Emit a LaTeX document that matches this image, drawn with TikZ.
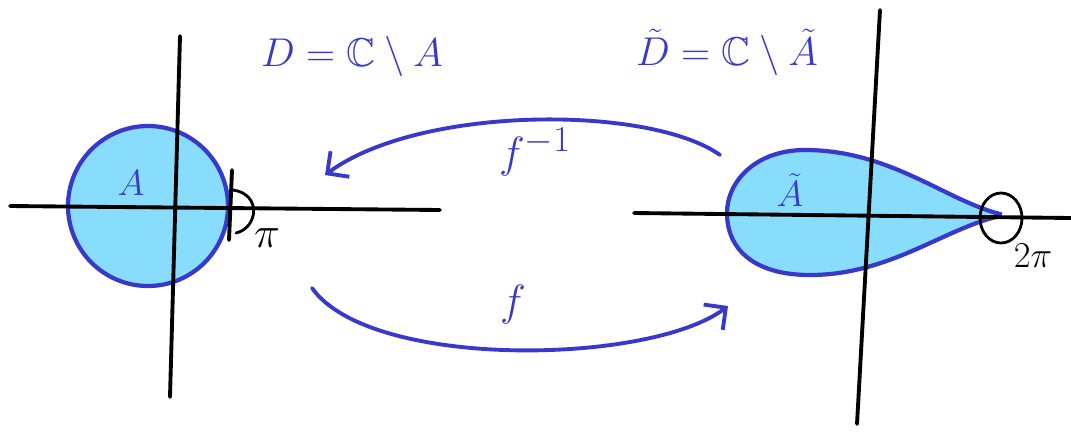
\documentclass[tikz,border=0pt]{standalone}
\usepackage{amssymb}
\usetikzlibrary{arrows.meta}
\definecolor{penblue}{HTML}{3838CC}
\definecolor{lightfill}{HTML}{88DDFC}
\begin{document}
\begin{tikzpicture}[x=0.02cm,y=-0.02cm,
    axis/.style={line width=2.2pt,black,line cap=round},
    region/.style={line width=2.4pt,draw=penblue,fill=lightfill},
    penline/.style={line width=1.6pt,black,line cap=round},
    map/.style={-{Straight Barb[length=9pt,width=18pt]},line width=2.2pt,
                draw=penblue,line cap=round},
    lbl/.style={text=penblue,inner sep=0pt},
    angle/.style={text=black,inner sep=0pt}
  ]
    \useasboundingbox (0,0) rectangle (1071,434);

    % left plane
    \draw[region] (148,206) circle[radius=80];
    \draw[axis] (10,206) -- (440,210);
    \draw[axis] (180,36) -- (170,397);
    \draw[axis] (232,170) -- (229,240);
    \draw[penline] (233,190) .. controls (262,194) and (258,228) .. (236,233);
    \node[lbl] (setA) at (131,183) {\huge $A$};
    \node[angle] (pi) at (267,238) {\Huge $\pi$};

    % right plane
    \draw[region] (1000,214) .. controls (945,200) and (890,150) .. (805,150)
      .. controls (755,150) and (727,182) .. (727,213)
      .. controls (727,250) and (755,275) .. (810,275)
      .. controls (890,275) and (945,228) .. (1000,216) -- cycle;
    \draw[axis] (634,213) -- (1071,218);
    \draw[axis] (880,10) -- (857,424);
    \draw[penline] (1001,218) ellipse[x radius=21,y radius=25];
    \node[lbl] (setAt) at (790,190) {\huge $\tilde{A}$};
    \node[angle] (twopi) at (1033,256) {\huge $2\pi$};

    % titles
    \node[lbl,scale=0.92] (domD) at (352,56) {\Huge $D=\mathbb{C}\setminus A$};
    \node[lbl,scale=0.92] (domDt) at (727,52) {\Huge $\tilde{D}=\mathbb{C}\setminus\tilde{A}$};

    % maps
    \coordinate (invstart) at (720,155);
    \coordinate (invend) at (325,175);
    \coordinate (fstart) at (312,288);
    \coordinate (fend) at (728,306);
    \draw[map] (invstart) .. controls (650,105) and (420,105) .. (invend);
    \draw[map] (fstart) .. controls (370,370) and (650,365) .. (fend);
    \node[lbl] (finv) at (535,152) {\Huge $f^{-1}$};
    \node[lbl] (fmap) at (513,305) {\Huge $f$};
\end{tikzpicture}
\end{document}
